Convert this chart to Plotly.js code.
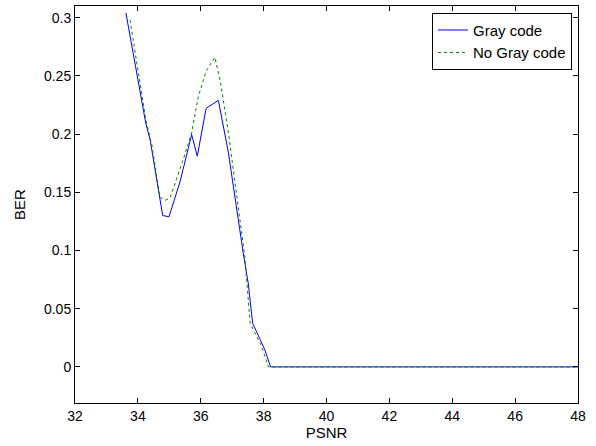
<!DOCTYPE html>
<html><head><meta charset="utf-8">
<script src="https://cdn.plot.ly/plotly-3.0.1.min.js"></script>
<style>html,body{margin:0;padding:0;background:#fff;}#plot{width:596px;height:446px;}</style>
</head><body><div id="plot"></div>
<script>
const grayX = [33.62, 34.25, 34.39, 34.54, 34.65, 34.79, 34.99, 35.34, 35.71, 35.89, 36.17, 36.56, 36.88, 37.09, 37.35, 37.51, 37.65, 38.04, 38.22, 48];
const grayY = [0.304, 0.2095, 0.195, 0.172, 0.152, 0.13, 0.129, 0.159, 0.1995, 0.181, 0.222, 0.229, 0.184, 0.1436, 0.098, 0.072, 0.0376, 0.0146, 0, 0];
const noGrayX = [33.75, 34.25, 34.45, 34.7, 34.86, 35.02, 35.44, 35.71, 35.92, 36.17, 36.45, 36.63, 36.88, 37.14, 37.4, 37.57, 37.94, 38.15, 48];
const noGrayY = [0.298, 0.213, 0.19, 0.146, 0.143, 0.145, 0.178, 0.201, 0.232, 0.254, 0.266, 0.244, 0.201, 0.146, 0.095, 0.0376, 0.0175, 0, 0];
const xTicks = [32, 34, 36, 38, 40, 42, 44, 46, 48];
const yTicks = [0, 0.05, 0.1, 0.15, 0.2, 0.25, 0.3];
const yTickText = ['0', '0.05', '0.1', '0.15', '0.2', '0.25', '0.3'];

const FONT = 'Liberation Sans, Arial';
const traces = [
  {x: grayX, y: grayY, mode: 'lines', name: 'Gray code', line: {color: '#0000ff', width: 1}},
  {x: noGrayX, y: noGrayY, mode: 'lines', name: 'No Gray code', line: {color: '#008000', width: 1, dash: '3px,3px'}}
];
const axisCommon = {
  showline: true, linecolor: '#000', linewidth: 1, mirror: 'ticks',
  ticks: 'inside', ticklen: 5, tickcolor: '#000', showgrid: false, zeroline: false,
  tickfont: {family: FONT, size: 14, color: '#000'}
};
const layout = {
  width: 596, height: 446,
  margin: {l: 75, r: 18, t: 6, b: 43},
  paper_bgcolor: '#fff', plot_bgcolor: '#fff',
  showlegend: true,
  legend: {x: 0.988, y: 0.983, xanchor: 'right', yanchor: 'top', bordercolor: '#000', borderwidth: 1,
           bgcolor: '#fff', font: {family: FONT, size: 15, color: '#000'},
           tracegroupgap: 0, itemwidth: 30},
  xaxis: Object.assign({}, axisCommon, {range: [32, 48], tickvals: xTicks,
           title: {text: 'PSNR', font: {family: FONT, size: 15, color: '#000'}, standoff: 2}}),
  yaxis: Object.assign({}, axisCommon, {range: [-0.031, 0.31], tickvals: yTicks, ticktext: yTickText,
           title: {text: 'BER', font: {family: FONT, size: 15, color: '#000'}, standoff: 14}})
};
Plotly.newPlot('plot', traces, layout, {displayModeBar: false, staticPlot: true});
</script></body></html>
